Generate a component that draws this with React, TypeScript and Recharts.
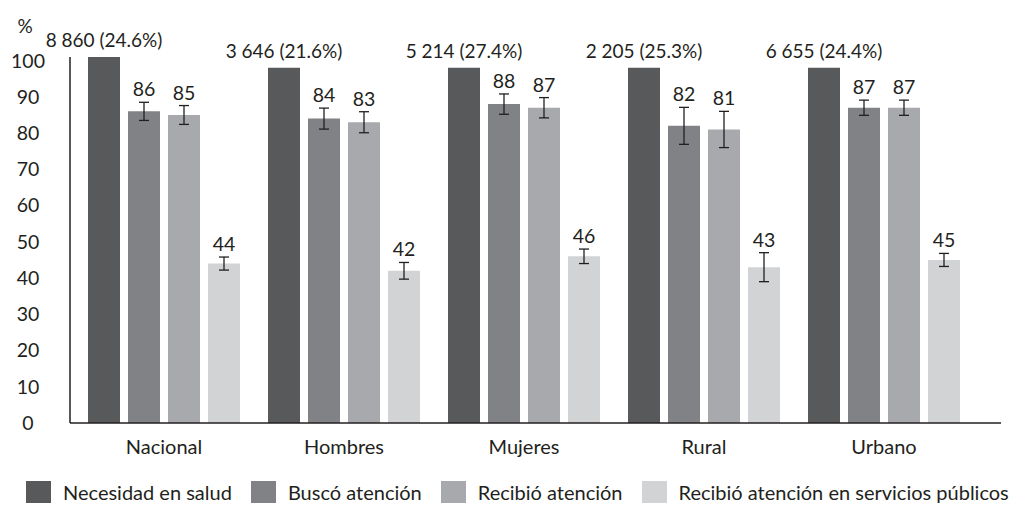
import { BarChart, Bar, XAxis, YAxis, ErrorBar, LabelList, Legend } from 'recharts'

const categories = ['Nacional', 'Hombres', 'Mujeres', 'Rural', 'Urbano']
const needHeight = [101, 98, 98, 98, 98]
const needCount = [8860, 3646, 5214, 2205, 6655]
const needShare = [24.6, 21.6, 27.4, 25.3, 24.4]
const sought = [86, 84, 88, 82, 87]
const soughtErr = [2.5, 2.9, 2.8, 5.1, 2.1]
const received = [85, 83, 87, 81, 87]
const receivedErr = [2.6, 2.9, 2.8, 5, 2.1]
const publicCare = [44, 42, 46, 43, 45]
const publicErr = [1.8, 2.3, 2, 4, 1.8]
const yTicks = [0, 10, 20, 30, 40, 50, 60, 70, 80, 90, 100]

const series = [
	{ key: 'need', name: 'Necesidad en salud', color: '#58595b' },
	{ key: 'sought', name: 'Buscó atención', color: '#808285' },
	{ key: 'received', name: 'Recibió atención', color: '#a7a9ac' },
	{ key: 'public', name: 'Recibió atención en servicios públicos', color: '#d1d3d4' },
]

const data = categories.map((name, i) => ({
	name,
	need: needHeight[i],
	needLabel: `${Math.floor(needCount[i] / 1000)} ${String(needCount[i] % 1000).padStart(3, '0')} (${needShare[i].toFixed(1)}%)`,
	sought: sought[i],
	soughtErr: soughtErr[i],
	received: received[i],
	receivedErr: receivedErr[i],
	public: publicCare[i],
	publicErr: publicErr[i],
}))

const FONT = 'Lato, "DejaVu Sans", sans-serif'
const INK = '#231f20'

// label above the error bar cap: pixels per unit come from the bar itself
const valueLabel = (errs: number[]) => (props: any) => {
	const { x, y, width, height, value, index } = props
	const capY = y - (errs[index] / value) * height
	return (
		<text x={x + width / 2} y={capY - 6} textAnchor='middle' fontSize={19.5} fill={INK} fontFamily={FONT}>
			{value}
		</text>
	)
}

const needLabel = (props: any) => {
	const { x, y, width, index } = props
	return (
		<text x={x + width / 2} y={y - 10} textAnchor='middle' fontSize={19} fill={INK} fontFamily={FONT}>
			{data[index].needLabel}
		</text>
	)
}

const LegendContent = () => (
	<div
		style={{
			display: 'flex',
			alignItems: 'center',
			height: 26,
			paddingLeft: 26,
			fontFamily: FONT,
			fontSize: 20,
			color: INK,
			whiteSpace: 'nowrap',
		}}
	>
		{series.map((s) => (
			<div key={s.key} style={{ display: 'flex', alignItems: 'center', marginRight: 19, flexShrink: 0 }}>
				<span style={{ width: 25, height: 22, background: s.color, marginRight: 12, display: 'inline-block' }} />
				<span>{s.name}</span>
			</div>
		))}
	</div>
)

export default function App() {
	return (
		<div style={{ position: 'absolute', left: 0, top: 0, width: 1016, height: 505, background: '#fff' }}>
			<BarChart
				width={1016}
				height={505}
				data={data}
				margin={{ top: 57, right: 15, bottom: 0, left: 0 }}
				barSize={32}
				barGap={8}
			>
				<XAxis
					dataKey='name'
					height={56}
					tickLine={false}
					tickMargin={11}
					axisLine={{ stroke: INK, strokeWidth: 1.5 }}
					padding={{ left: 4, right: 27 }}
					tick={{ fill: INK, fontSize: 20, fontFamily: FONT }}
				/>
				<YAxis
					width={70}
					domain={[0, 101]}
					ticks={yTicks}
					interval={0}
					tickLine={false}
					tickMargin={36}
					axisLine={{ stroke: INK, strokeWidth: 1.5 }}
					tick={{ fill: INK, fontSize: 19.5, fontFamily: FONT, textAnchor: 'middle' }}
					label={{ value: '%', position: 'top', offset: 24, dx: -10, fill: INK, fontSize: 19, fontFamily: FONT }}
				/>
				<Legend
					verticalAlign='bottom'
					content={<LegendContent />}
					wrapperStyle={{ left: 0, bottom: 0, width: 1016, height: 26 }}
				/>
				<Bar dataKey='need' name={series[0].name} fill={series[0].color} isAnimationActive={false}>
					<LabelList dataKey='need' content={needLabel} />
				</Bar>
				<Bar dataKey='sought' name={series[1].name} fill={series[1].color} isAnimationActive={false}>
					<ErrorBar dataKey='soughtErr' width={5} stroke={INK} strokeWidth={1.3} />
					<LabelList dataKey='sought' content={valueLabel(soughtErr)} />
				</Bar>
				<Bar dataKey='received' name={series[2].name} fill={series[2].color} isAnimationActive={false}>
					<ErrorBar dataKey='receivedErr' width={5} stroke={INK} strokeWidth={1.3} />
					<LabelList dataKey='received' content={valueLabel(receivedErr)} />
				</Bar>
				<Bar dataKey='public' name={series[3].name} fill={series[3].color} isAnimationActive={false}>
					<ErrorBar dataKey='publicErr' width={5} stroke={INK} strokeWidth={1.3} />
					<LabelList dataKey='public' content={valueLabel(publicErr)} />
				</Bar>
			</BarChart>
		</div>
	)
}
